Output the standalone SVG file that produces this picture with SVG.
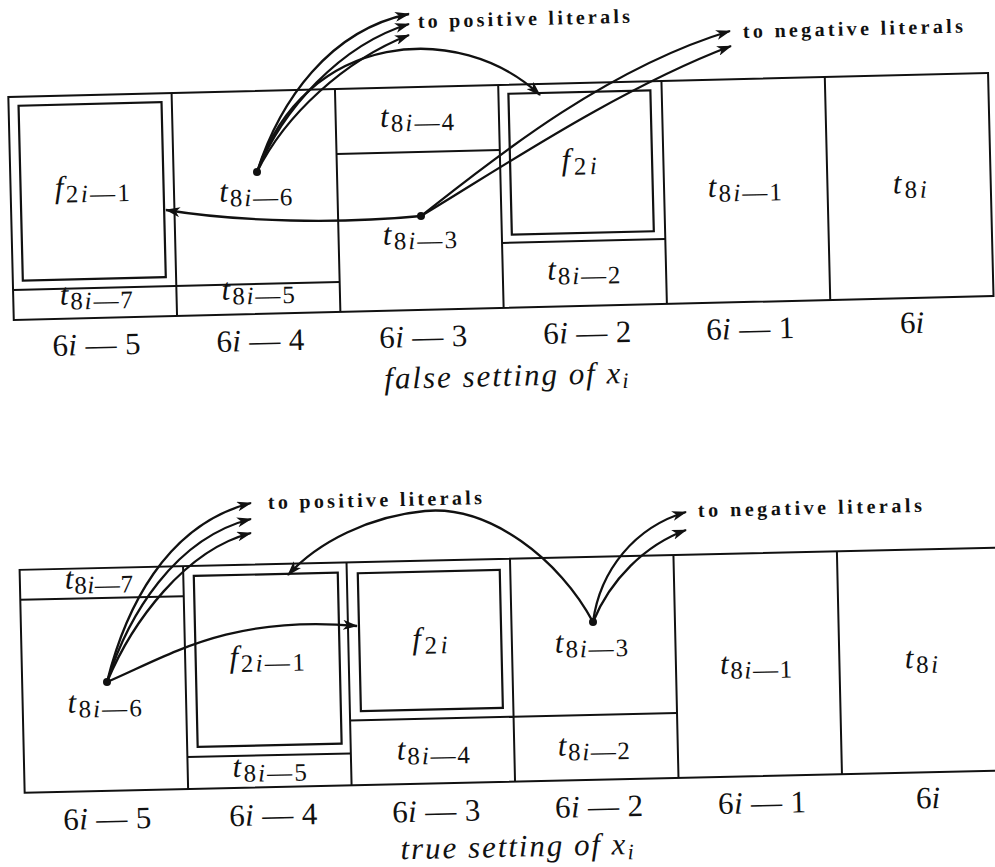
<svg xmlns="http://www.w3.org/2000/svg" width="995" height="867" viewBox="0 0 995 867">
<defs>
<style>
.fr{fill:none;stroke:#111;stroke-width:2}
.bx{fill:none;stroke:#111;stroke-width:2.2}
.m{font-family:"Liberation Serif","DejaVu Serif",serif;font-size:31px;text-anchor:middle;fill:#111}
.i{font-style:italic}
.s{font-size:25px}
.cap{font-family:"Liberation Serif","DejaVu Serif",serif;font-size:31px;font-style:italic;text-anchor:middle;fill:#111}
.cs{font-size:22px}
.note{font-family:"Liberation Serif","DejaVu Serif",serif;font-size:20px;font-weight:bold;fill:#111}
.cn{fill:none;stroke:#111;stroke-width:2.3}
.dot{fill:#111}
</style>
<marker id="ah" markerWidth="15" markerHeight="10" refX="14" refY="5" orient="auto" markerUnits="userSpaceOnUse">
<path d="M0,0 L15,5 L0,10 L4,5 z" fill="#111"/>
</marker>
</defs>
<rect width="995" height="867" fill="#fff"/>

<!-- TOP: false setting -->
<g id="top" transform="rotate(-1.4 500 200)">
  <g id="top-frame">
    <rect class="fr" x="11" y="85" width="980" height="223"/>
    <path class="fr" d="M174.3,85V308M337.7,85V308M501,85V308M664.3,85V308M827.7,85V308"/>
  </g>
  <g id="top-f2i-1">
    <rect class="bx" x="21" y="94" width="143" height="175"/>
    <text class="m" x="92.7" y="187" textLength="75"><tspan class="i">f</tspan><tspan class="s" dy="5">2<tspan class="i">i</tspan>—1</tspan></text>
  </g>
  <g id="top-t8i-7">
    <path class="fr" d="M11,278H337.7"/>
    <text class="m" x="94" y="294" textLength="73"><tspan class="i">t</tspan><tspan class="s" dy="5">8<tspan class="i">i</tspan>—7</tspan></text>
  </g>
  <g id="top-t8i-6">
    <text class="m" x="256" y="195" textLength="73"><tspan class="i">t</tspan><tspan class="s" dy="5">8<tspan class="i">i</tspan>—6</tspan></text>
  </g>
  <g id="top-t8i-5">
    <text class="m" x="256" y="293" textLength="73"><tspan class="i">t</tspan><tspan class="s" dy="5">8<tspan class="i">i</tspan>—5</tspan></text>
  </g>
  <g id="top-t8i-4">
    <path class="fr" d="M337.7,150H501"/>
    <text class="m" x="419" y="124" textLength="74"><tspan class="i">t</tspan><tspan class="s" dy="5">8<tspan class="i">i</tspan>—4</tspan></text>
  </g>
  <g id="top-t8i-3">
    <text class="m" x="419" y="242" textLength="74"><tspan class="i">t</tspan><tspan class="s" dy="5">8<tspan class="i">i</tspan>—3</tspan></text>
  </g>
  <g id="top-f2i">
    <rect class="bx" x="511" y="94" width="142" height="141"/>
    <text class="m" x="580" y="171.5" textLength="35"><tspan class="i">f</tspan><tspan class="s" dy="5">2<tspan class="i">i</tspan></tspan></text>
  </g>
  <g id="top-t8i-2">
    <path class="fr" d="M501,243H664.3"/>
    <text class="m" x="582" y="281" textLength="73"><tspan class="i">t</tspan><tspan class="s" dy="5">8<tspan class="i">i</tspan>—2</tspan></text>
  </g>
  <g id="top-t8i-1">
    <text class="m" x="745" y="202" textLength="74"><tspan class="i">t</tspan><tspan class="s" dy="5">8<tspan class="i">i</tspan>—1</tspan></text>
  </g>
  <g id="top-t8i">
    <text class="m" x="910" y="203" textLength="34"><tspan class="i">t</tspan><tspan class="s" dy="5">8<tspan class="i">i</tspan></tspan></text>
  </g>
  <g id="top-cols">
    <text class="m" x="93" y="345" textLength="88">6<tspan class="i">i</tspan> — 5</text>
    <text class="m" x="257" y="345" textLength="88">6<tspan class="i">i</tspan> — 4</text>
    <text class="m" x="420" y="345" textLength="88">6<tspan class="i">i</tspan> — 3</text>
    <text class="m" x="584" y="345" textLength="88">6<tspan class="i">i</tspan> — 2</text>
    <text class="m" x="747" y="345" textLength="88">6<tspan class="i">i</tspan> — 1</text>
    <text class="m" x="909" y="343">6<tspan class="i">i</tspan></text>
    <text class="cap" x="502" y="386" textLength="244">false setting of x<tspan class="cs" dy="5">i</tspan></text>
  </g>
</g>

<!-- BOTTOM: true setting -->
<g id="bottom" transform="rotate(-1.3 500 670)">
  <g id="bot-frame">
    <path class="fr" d="M1012,559H22V782H1012"/>
    <path class="fr" d="M185.5,559V782M349,559V782M512.5,559V782M676,559V782M839.5,559V782"/>
  </g>
  <g id="bot-t8i-7">
    <path class="fr" d="M22,589H185.5"/>
    <text class="m" x="101" y="579" textLength="68"><tspan class="i">t</tspan><tspan class="s" dy="5">8<tspan class="i">i</tspan>—7</tspan></text>
  </g>
  <g id="bot-t8i-6">
    <text class="m" x="104" y="703" textLength="74"><tspan class="i">t</tspan><tspan class="s" dy="5">8<tspan class="i">i</tspan>—6</tspan></text>
  </g>
  <g id="bot-f2i-1">
    <rect class="bx" x="196" y="569" width="144" height="171"/>
    <text class="m" x="267.5" y="661" textLength="75"><tspan class="i">f</tspan><tspan class="s" dy="5">2<tspan class="i">i</tspan>—1</tspan></text>
  </g>
  <g id="bot-t8i-5">
    <path class="fr" d="M185.5,750H349"/>
    <text class="m" x="267.5" y="771" textLength="74"><tspan class="i">t</tspan><tspan class="s" dy="5">8<tspan class="i">i</tspan>—5</tspan></text>
  </g>
  <g id="bot-f2i">
    <rect class="bx" x="360" y="570" width="142" height="138"/>
    <text class="m" x="430.5" y="647" textLength="35"><tspan class="i">f</tspan><tspan class="s" dy="5">2<tspan class="i">i</tspan></tspan></text>
  </g>
  <g id="bot-t8i-4">
    <path class="fr" d="M349,717H512.5"/>
    <text class="m" x="431.5" y="757.5" textLength="73"><tspan class="i">t</tspan><tspan class="s" dy="5">8<tspan class="i">i</tspan>—4</tspan></text>
  </g>
  <g id="bot-t8i-3">
    <text class="m" x="592" y="654" textLength="73"><tspan class="i">t</tspan><tspan class="s" dy="5">8<tspan class="i">i</tspan>—3</tspan></text>
  </g>
  <g id="bot-t8i-2">
    <path class="fr" d="M512.5,717H676"/>
    <text class="m" x="592" y="757" textLength="72"><tspan class="i">t</tspan><tspan class="s" dy="5">8<tspan class="i">i</tspan>—2</tspan></text>
  </g>
  <g id="bot-t8i-1">
    <text class="m" x="756" y="679" textLength="72"><tspan class="i">t</tspan><tspan class="s" dy="5">8<tspan class="i">i</tspan>—1</tspan></text>
  </g>
  <g id="bot-t8i">
    <text class="m" x="921.5" y="677.5" textLength="33"><tspan class="i">t</tspan><tspan class="s" dy="5">8<tspan class="i">i</tspan></tspan></text>
  </g>
  <g id="bot-cols">
    <text class="m" x="104" y="820" textLength="88">6<tspan class="i">i</tspan> — 5</text>
    <text class="m" x="270" y="820" textLength="88">6<tspan class="i">i</tspan> — 4</text>
    <text class="m" x="433" y="820" textLength="88">6<tspan class="i">i</tspan> — 3</text>
    <text class="m" x="596" y="819" textLength="88">6<tspan class="i">i</tspan> — 2</text>
    <text class="m" x="759" y="819" textLength="88">6<tspan class="i">i</tspan> — 1</text>
    <text class="m" x="925" y="818">6<tspan class="i">i</tspan></text>
    <text class="cap" x="513" y="857" textLength="233">true setting of x<tspan class="cs" dy="5">i</tspan></text>
  </g>
</g>

<!-- CONNECTORS -->
<g id="connectors">
  <!-- top -->
  <path class="cn" marker-end="url(#ah)" d="M257,172 C280,100 330,30 409,14"/>
  <path class="cn" marker-end="url(#ah)" d="M257,172 C282,110 340,45 409,24"/>
  <path class="cn" marker-end="url(#ah)" d="M257,172 C285,115 345,60 409,35"/>
  <path class="cn" marker-end="url(#ah)" d="M257,172 C305,30 460,20 540,95"/>
  <path class="cn" marker-end="url(#ah)" d="M421,216 C340,224 240,222 166,210"/>
  <path class="cn" marker-end="url(#ah)" d="M421,216 C480,170 600,70 730,31"/>
  <path class="cn" marker-end="url(#ah)" d="M421,216 C490,175 615,90 731,46"/>
  <circle class="dot" cx="257" cy="172" r="4"/>
  <circle class="dot" cx="421" cy="216" r="4"/>
  <text class="note" x="418" y="28" textLength="212" transform="rotate(-1.4 418 28)">to positive literals</text>
  <text class="note" x="743" y="38" textLength="220" transform="rotate(-1.4 743 38)">to negative literals</text>
  <!-- bottom -->
  <path class="cn" marker-end="url(#ah)" d="M107,682 C125,610 165,525 251,503"/>
  <path class="cn" marker-end="url(#ah)" d="M107,682 C128,615 175,538 251,519"/>
  <path class="cn" marker-end="url(#ah)" d="M107,682 C132,622 185,550 251,533"/>
  <path class="cn" marker-end="url(#ah)" d="M107,682 C170,655 230,615 357,626"/>
  <path class="cn" marker-end="url(#ah)" d="M593,622 C560,560 490,505 425,511 C370,516 318,542 288,575"/>
  <path class="cn" marker-end="url(#ah)" d="M593,622 C600,570 635,527 686,512"/>
  <path class="cn" marker-end="url(#ah)" d="M593,622 C610,580 645,545 686,530"/>
  <circle class="dot" cx="107" cy="682" r="4"/>
  <circle class="dot" cx="593" cy="622" r="4"/>
  <text class="note" x="268" y="509" textLength="214" transform="rotate(-1.3 268 509)">to positive literals</text>
  <text class="note" x="698" y="517" textLength="224" transform="rotate(-1.3 698 517)">to negative literals</text>
</g>
</svg>
